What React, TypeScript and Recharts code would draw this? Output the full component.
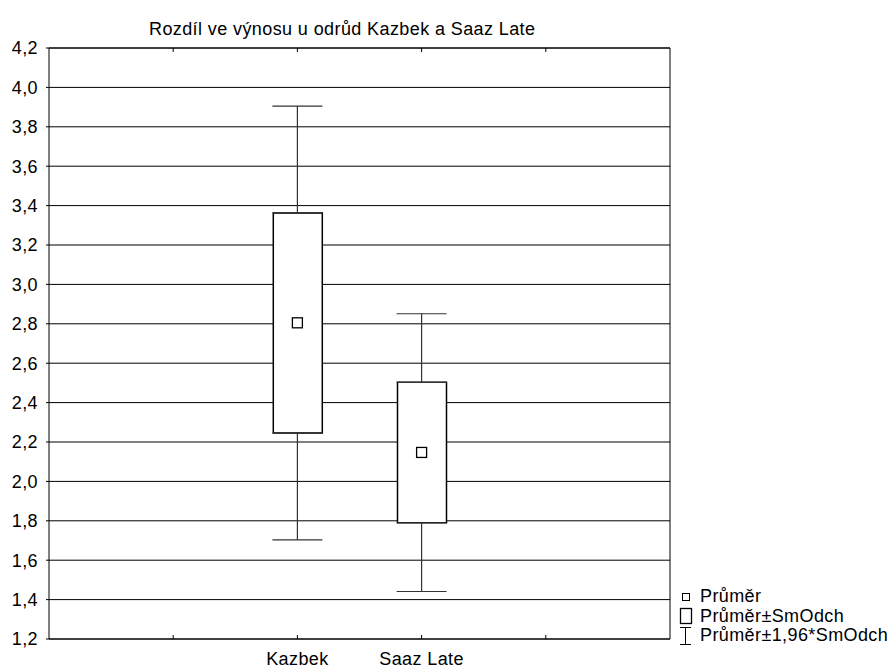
import React from 'react';
import { ComposedChart, Bar, Scatter, ErrorBar, XAxis, YAxis, CartesianGrid, ReferenceLine } from 'recharts';

// values
const categories = ['Kazbek', 'Saaz Late'];
const means = [2.805, 2.147];
const sdLow = [2.246, 1.79];
const sdHigh = [3.363, 2.503];
const ciLow = [1.703, 1.441];
const ciHigh = [3.905, 2.851];

const yTicks = [1.2, 1.4, 1.6, 1.8, 2.0, 2.2, 2.4, 2.6, 2.8, 3.0, 3.2, 3.4, 3.6, 3.8, 4.0, 4.2];
const xSlots = ['', 'Kazbek', 'Saaz Late', ''];
const xTicks = [1, 2, 3, 4];
const xDomain: [number, number] = [0, 5];

const legendItems = ['Průměr', 'Průměr±SmOdch', 'Průměr±1,96*SmOdch'];

const FONT = '"Liberation Sans", Arial, sans-serif';
const FS = 18;
const LS = 0.4;

const data = categories.map((name, i) => ({
    x: xSlots.indexOf(name) + 1,
    name,
    mean: means[i],
    box: [sdLow[i], sdHigh[i]],
    sdLow: sdLow[i],
    sdHigh: sdHigh[i],
    upErr: [0, ciHigh[i] - sdHigh[i]],
    lowErr: [sdLow[i] - ciLow[i], 0],
}));

const fmtY = (v: number) => v.toFixed(1).replace('.', ',');
const labelFor = (v: number) => xSlots[xTicks.indexOf(v)] || '';

const BottomTick = (props: any) => {
    const { x, y, payload } = props;
    return (
        <g>
            <line x1={x} y1={y} x2={x} y2={y - 4} stroke="#000" />
            <text x={x} y={y + 26} textAnchor="middle" fill="#000" fontSize={FS} fontFamily={FONT} letterSpacing={LS}>
                {labelFor(payload.value)}
            </text>
        </g>
    );
};

const TopTick = (props: any) => {
    const { x, y } = props;
    return <line x1={x} y1={y} x2={x} y2={y + 4} stroke="#000" />;
};

const MeanSquare = (props: any) => {
    const { cx, cy } = props;
    return <rect x={cx - 5} y={cy - 5} width={10} height={10} fill="#fff" stroke="#000" strokeWidth={1.3} />;
};

const Nothing = () => <g />;

const LegendIcon = ({ kind }: { kind: number }) => (
    <svg width={16} height={20} style={{ display: 'block' }}>
        {kind === 0 && <rect x={3.5} y={6.5} width={7} height={7} fill="#fff" stroke="#000" />}
        {kind === 1 && <rect x={1.5} y={2.5} width={11} height={15} fill="#fff" stroke="#000" strokeWidth={1.3} />}
        {kind === 2 && (
            <g stroke="#000">
                <line x1={1} y1={1.5} x2={12} y2={1.5} />
                <line x1={6.5} y1={1.5} x2={6.5} y2={18.5} />
                <line x1={1} y1={18.5} x2={12} y2={18.5} />
            </g>
        )}
    </svg>
);

const App: React.FC = () => {
    return (
        <div style={{ position: 'absolute', left: 0, top: 0, width: 892, height: 668, background: '#fff', fontFamily: FONT, overflow: 'hidden' }}>
            <div style={{ position: 'absolute', left: 149, top: 19, fontSize: FS, letterSpacing: LS, lineHeight: '20px', whiteSpace: 'nowrap', color: '#000' }}>
                Rozdíl ve výnosu u odrůd Kazbek a Saaz Late
            </div>
            <ComposedChart width={892} height={668} data={data} margin={{ top: 47, right: 222, bottom: 0, left: 0 }} style={{ overflow: 'visible' }}>
                <CartesianGrid vertical={false} stroke="#000" />
                <XAxis
                    dataKey="x"
                    type="number"
                    domain={xDomain}
                    ticks={xTicks}
                    interval={0}
                    height={29}
                    tickSize={0}
                    tickMargin={0}
                    tickLine={false}
                    axisLine={{ stroke: '#000' }}
                    tick={<BottomTick />}
                />
                <XAxis
                    xAxisId="top"
                    orientation="top"
                    dataKey="x"
                    type="number"
                    domain={xDomain}
                    ticks={xTicks}
                    interval={0}
                    height={1}
                    tickSize={0}
                    tickMargin={0}
                    tickLine={false}
                    axisLine={{ stroke: '#000' }}
                    tick={<TopTick />}
                />
                <YAxis
                    type="number"
                    domain={[1.2, 4.2]}
                    ticks={yTicks}
                    interval={0}
                    width={49}
                    tickSize={3}
                    tickMargin={8}
                    tickFormatter={fmtY}
                    axisLine={{ stroke: '#000' }}
                    tickLine={{ stroke: '#000' }}
                    tick={{ fill: '#000', fontSize: FS, fontFamily: FONT, letterSpacing: LS }}
                />
                <ReferenceLine x={xDomain[1]} stroke="#000" />
                <Scatter dataKey="sdHigh" shape={<Nothing />} isAnimationActive={false}>
                    <ErrorBar dataKey="upErr" direction="y" width={25} stroke="#333" strokeWidth={1.2} />
                </Scatter>
                <Scatter dataKey="sdLow" shape={<Nothing />} isAnimationActive={false}>
                    <ErrorBar dataKey="lowErr" direction="y" width={25} stroke="#333" strokeWidth={1.2} />
                </Scatter>
                <Bar dataKey="box" barSize={49} fill="#fff" stroke="#000" strokeWidth={1.5} isAnimationActive={false} />
                <Scatter dataKey="mean" shape={<MeanSquare />} isAnimationActive={false} />
            </ComposedChart>
            <div style={{ position: 'absolute', left: 679, top: 587, fontSize: FS, letterSpacing: LS, lineHeight: '19.5px', color: '#000' }}>
                {legendItems.map((label, i) => (
                    <div key={label} style={{ display: 'flex', alignItems: 'center', height: 19.5, whiteSpace: 'nowrap' }}>
                        <LegendIcon kind={i} />
                        <span style={{ marginLeft: 5 }}>{label}</span>
                    </div>
                ))}
            </div>
        </div>
    );
};

export default App;
